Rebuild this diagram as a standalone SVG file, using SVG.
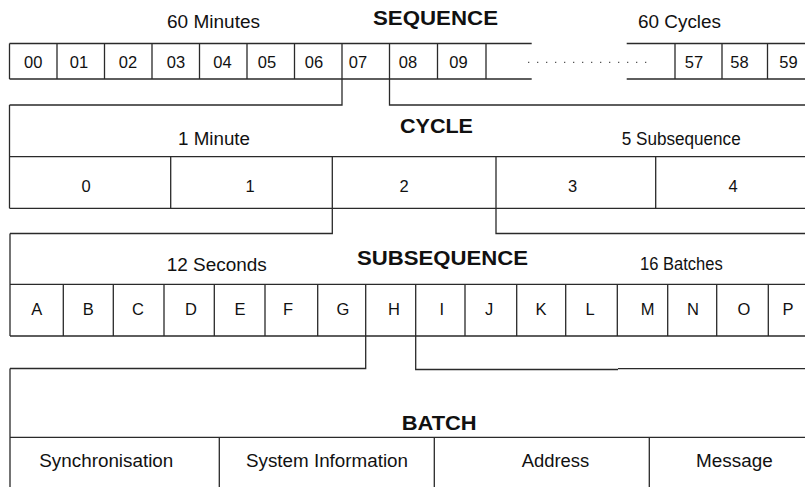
<svg xmlns="http://www.w3.org/2000/svg" width="805" height="487" viewBox="0 0 805 487">
<style>
.ln{fill:none;stroke:#2a2a2a;stroke-width:1.3}
.dot{fill:none;stroke:#555;stroke-width:1.3;stroke-dasharray:1.3 7.7}
text{font-family:"Liberation Sans",Arial,Helvetica,sans-serif;fill:#111}
.t{font-size:17.5px}
.b{font-size:21px;font-weight:bold}
.c{font-size:16.5px;text-anchor:middle}
</style>
<rect width="805" height="487" fill="#fff"/>
<g id="sequence">
  <path class="ln" d="M9.5 43.5H531.7M626.7 43.5H805M9.5 79H531.7M626.7 79H805M9.5 43.5V79M57 43.5V79M104.5 43.5V79M152 43.5V79M199.5 43.5V79M247 43.5V79M294.5 43.5V79M342 43.5V79M389.5 43.5V79M437.5 43.5V79M486 43.5V79M675 43.5V79M722 43.5V79M767.5 43.5V79"/>
  <path class="dot" d="M528 62.3H650"/>
  <text class="t" x="167" y="28.3" textLength="93" lengthAdjust="spacingAndGlyphs">60 Minutes</text>
  <text class="b" x="373" y="25" textLength="125" lengthAdjust="spacingAndGlyphs">SEQUENCE</text>
  <text class="t" x="638" y="28" textLength="83" lengthAdjust="spacingAndGlyphs">60 Cycles</text>
  <text class="c" x="33.3" y="68">00</text>
  <text class="c" x="79" y="68">01</text>
  <text class="c" x="128" y="68">02</text>
  <text class="c" x="176" y="68">03</text>
  <text class="c" x="222.5" y="68">04</text>
  <text class="c" x="267" y="68">05</text>
  <text class="c" x="314" y="68">06</text>
  <text class="c" x="358" y="68">07</text>
  <text class="c" x="408" y="68">08</text>
  <text class="c" x="458.5" y="68">09</text>
  <text class="c" x="694" y="68">57</text>
  <text class="c" x="739.5" y="68">58</text>
  <text class="c" x="788.5" y="68">59</text>
</g>
<g id="connectors">
  <path class="ln" d="M342 79V105H9.5M389.5 79V105H805M332.3 208.3V233.5H10M496 208.3V233.5H805M365.7 336V368.5H10M415.7 336V369.5H618M618 368.7H805"/>
</g>
<g id="cycle">
  <path class="ln" d="M9.5 105V208.3M9.5 156.7H805M9.5 208.3H805M170.7 156.7V208.3M332.3 156.7V208.3M496 156.7V208.3M655.7 156.7V208.3"/>
  <text class="t" x="178" y="145" textLength="72" lengthAdjust="spacingAndGlyphs">1 Minute</text>
  <text class="b" x="400" y="133" textLength="73" lengthAdjust="spacingAndGlyphs">CYCLE</text>
  <text class="t" x="621.7" y="145" textLength="119" lengthAdjust="spacingAndGlyphs">5 Subsequence</text>
  <text class="c" x="86" y="191.7">0</text>
  <text class="c" x="250" y="191.7">1</text>
  <text class="c" x="404" y="191.7">2</text>
  <text class="c" x="572.5" y="191.7">3</text>
  <text class="c" x="733" y="191.7">4</text>
</g>
<g id="subsequence">
  <path class="ln" d="M10 233.5V336M10 284.3H805M10 336H805M63.3 284.3V336M113.3 284.3V336M164 284.3V336M214.3 284.3V336M265 284.3V336M317.7 284.3V336M365.7 284.3V336M415.7 284.3V336M465 284.3V336M516.7 284.3V336M565.7 284.3V336M617.3 284.3V336M667.7 284.3V336M716.7 284.3V336M768.3 284.3V336"/>
  <text class="t" x="166.7" y="270.7" textLength="100" lengthAdjust="spacingAndGlyphs">12 Seconds</text>
  <text class="b" x="357" y="265" textLength="171" lengthAdjust="spacingAndGlyphs">SUBSEQUENCE</text>
  <text class="t" x="640" y="270" textLength="82.7" lengthAdjust="spacingAndGlyphs">16 Batches</text>
  <text class="c" x="36.7" y="315">A</text>
  <text class="c" x="88.3" y="315">B</text>
  <text class="c" x="138" y="315">C</text>
  <text class="c" x="191" y="315">D</text>
  <text class="c" x="240" y="315">E</text>
  <text class="c" x="288" y="315">F</text>
  <text class="c" x="343" y="315">G</text>
  <text class="c" x="394" y="315">H</text>
  <text class="c" x="441.7" y="315">I</text>
  <text class="c" x="489" y="315">J</text>
  <text class="c" x="541" y="315">K</text>
  <text class="c" x="590" y="315">L</text>
  <text class="c" x="647.5" y="315">M</text>
  <text class="c" x="693" y="315">N</text>
  <text class="c" x="744" y="315">O</text>
  <text class="c" x="788" y="315">P</text>
</g>
<g id="batch">
  <path class="ln" d="M10 368.5V487M10 437.3H805M219.3 437.3V487M434.3 437.3V487M649.3 437.3V487"/>
  <text class="b" x="401.7" y="430" textLength="75" lengthAdjust="spacingAndGlyphs">BATCH</text>
  <text class="t" x="39.3" y="467.3" textLength="134" lengthAdjust="spacingAndGlyphs">Synchronisation</text>
  <text class="t" x="246" y="467.3" textLength="162" lengthAdjust="spacingAndGlyphs">System Information</text>
  <text class="t" x="521.7" y="467.3" textLength="67.6" lengthAdjust="spacingAndGlyphs">Address</text>
  <text class="t" x="696" y="467.3" textLength="76.7" lengthAdjust="spacingAndGlyphs">Message</text>
</g>
</svg>
